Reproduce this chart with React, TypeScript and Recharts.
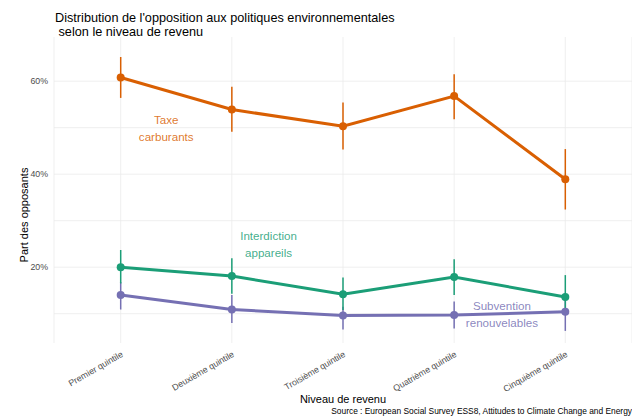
import { ComposedChart, Line, ErrorBar, XAxis, YAxis, CartesianGrid, ReferenceDot } from 'recharts';

const quintiles = ['Premier quintile', 'Deuxième quintile', 'Troisième quintile', 'Quatrième quintile', 'Cinquième quintile'];

// share of opponents (%) with 95% interval bounds
const taxe = [60.8, 53.9, 50.3, 56.8, 38.9];
const taxeLow = [56.4, 49.1, 45.3, 51.8, 32.4];
const taxeHigh = [65.2, 58.8, 55.4, 61.5, 45.4];

const interdiction = [20.0, 18.1, 14.2, 17.9, 13.6];
const interdictionLow = [16.5, 14.3, 10.8, 14.0, 9.8];
const interdictionHigh = [23.7, 21.9, 17.8, 21.7, 18.3];

const subvention = [14.0, 10.9, 9.6, 9.7, 10.4];
const subventionLow = [10.9, 8.0, 6.6, 6.8, 6.3];
const subventionHigh = [16.8, 14.0, 11.5, 12.6, 14.5];

const yTicks = [20, 40, 60];
const gridValues = [10, 20, 30, 40, 50, 60];

const ORANGE = '#D95F02';
const GREEN = '#1B9E77';
const PURPLE = '#7570B3';
const FONT = '"Liberation Sans", Arial, sans-serif';

const data = quintiles.map((q, i) => ({
    pos: i + 1,
    taxe: taxe[i],
    taxeErr: [taxe[i] - taxeLow[i], taxeHigh[i] - taxe[i]],
    interdiction: interdiction[i],
    interdictionErr: [interdiction[i] - interdictionLow[i], interdictionHigh[i] - interdiction[i]],
    subvention: subvention[i],
    subventionErr: [subvention[i] - subventionLow[i], subventionHigh[i] - subvention[i]],
}));

const QuintileTick = (props: any) => {
    const { x, y, payload } = props;
    const tx = x + 3;
    const ty = y + 5;
    return (
        <text
            x={tx}
            y={ty}
            transform={`rotate(-30 ${tx} ${ty})`}
            textAnchor="end"
            fontSize={8.8}
            fontFamily={FONT}
            fill="#4D4D4D"
        >
            {quintiles[payload.value - 1]}
        </text>
    );
};

// two-line annotation centred on a reference dot
const TwoLine = (props: any) => {
    const { viewBox, lines, color } = props;
    const cx = viewBox.x + viewBox.width / 2;
    const cy = viewBox.y + viewBox.height / 2;
    return (
        <text x={cx} y={cy} textAnchor="middle" fontSize={11.6} fontFamily={FONT} fill={color} fillOpacity={0.85}>
            <tspan x={cx} dy={-4}>{lines[0]}</tspan>
            <tspan x={cx} dy={16.5}>{lines[1]}</tspan>
        </text>
    );
};

export default function App() {
    return (
        <div style={{ position: 'absolute', left: 0, top: 0, width: 632, height: 417, background: '#fff' }}>
            <ComposedChart
                width={632}
                height={417}
                data={data}
                margin={{ top: 37, right: 0, bottom: 0, left: 0 }}
            >
                <CartesianGrid stroke="#EBEBEB" strokeWidth={0.8} horizontalValues={gridValues} />
                <XAxis
                    type="number"
                    dataKey="pos"
                    domain={[0.4, 5.6]}
                    ticks={[1, 2, 3, 4, 5]}
                    axisLine={false}
                    tickLine={false}
                    tick={<QuintileTick />}
                    interval={0}
                    height={74}
                />
                <YAxis
                    type="number"
                    domain={[3.7, 69.5]}
                    ticks={yTicks}
                    allowDataOverflow
                    axisLine={false}
                    tickLine={false}
                    tickSize={0}
                    tickMargin={6}
                    width={54}
                    tickFormatter={(v: number) => `${v}%`}
                    tick={{ fontSize: 8.8, fill: '#4D4D4D', fontFamily: FONT }}
                />
                <Line dataKey="subvention" stroke={PURPLE} strokeWidth={3} dot={{ r: 4, fill: PURPLE, stroke: 'none' }} isAnimationActive={false}>
                    <ErrorBar dataKey="subventionErr" direction="y" width={0} stroke={PURPLE} strokeWidth={1.5} />
                </Line>
                <Line dataKey="interdiction" stroke={GREEN} strokeWidth={3} dot={{ r: 4, fill: GREEN, stroke: 'none' }} isAnimationActive={false}>
                    <ErrorBar dataKey="interdictionErr" direction="y" width={0} stroke={GREEN} strokeWidth={1.5} />
                </Line>
                <Line dataKey="taxe" stroke={ORANGE} strokeWidth={3} dot={{ r: 4, fill: ORANGE, stroke: 'none' }} isAnimationActive={false}>
                    <ErrorBar dataKey="taxeErr" direction="y" width={0} stroke={ORANGE} strokeWidth={1.5} />
                </Line>
                <ReferenceDot x={1.41} y={49.9} r={0} stroke="none" label={<TwoLine lines={['Taxe', 'carburants']} color={ORANGE} />} />
                <ReferenceDot x={2.33} y={24.9} r={0} stroke="none" label={<TwoLine lines={['Interdiction', 'appareils']} color={GREEN} />} />
                <ReferenceDot x={4.43} y={9.9} r={0} stroke="none" label={<TwoLine lines={['Subvention', 'renouvelables']} color={PURPLE} />} />
            </ComposedChart>
            <svg width={632} height={417} style={{ position: 'absolute', left: 0, top: 0, pointerEvents: 'none' }}>
                <text x={55} y={22} fontSize={12.7} fontFamily={FONT} fill="#000">
                    Distribution de l'opposition aux politiques environnementales
                </text>
                <text x={55} y={36} fontSize={12.7} fontFamily={FONT} fill="#000" style={{ whiteSpace: 'pre' }}>
                    {' selon le niveau de revenu'}
                </text>
                <text
                    x={0}
                    y={0}
                    transform="translate(28 215) rotate(-90)"
                    textAnchor="middle"
                    fontSize={11}
                    fontFamily={FONT}
                    fill="#000"
                >
                    Part des opposants
                </text>
                <text x={343} y={403} textAnchor="middle" fontSize={11} fontFamily={FONT} fill="#000">
                    Niveau de revenu
                </text>
                <text x={632} y={414} textAnchor="end" fontSize={8.4} fontFamily={FONT} fill="#000">
                    Source : European Social Survey ESS8, Attitudes to Climate Change and Energy
                </text>
            </svg>
        </div>
    );
}
